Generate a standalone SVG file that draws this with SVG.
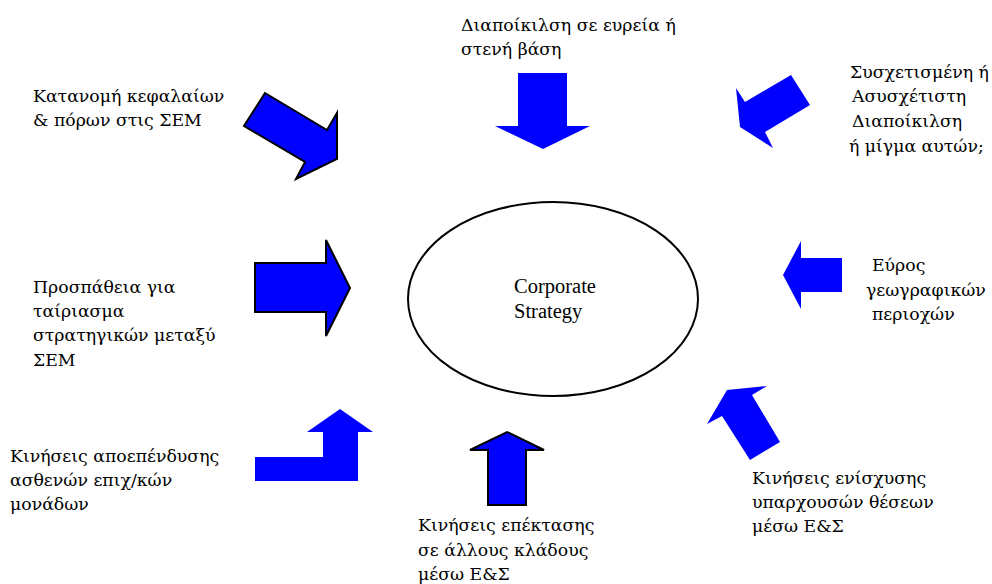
<svg xmlns="http://www.w3.org/2000/svg" width="992" height="584" viewBox="0 0 992 584">
<style>
text { font-family: "Liberation Serif", "DejaVu Serif", serif; font-size: 20.5px; fill: #000; }
.g { font-family: "DejaVu Serif", "Liberation Serif", serif; font-size: 17.3px; }
.a { fill: #0000ff; stroke: #000; stroke-width: 2; stroke-linejoin: miter; }
.b { fill: #0000ff; stroke: none; }
</style>
<rect width="992" height="584" fill="#fff"/>
<g id="center">
<ellipse cx="553" cy="299" rx="145" ry="97" fill="none" stroke="#000" stroke-width="2"/>
<text x="514" y="293">Corporate</text>
<text x="514" y="318">Strategy</text>
</g>
<g id="connectors">
<polygon class="a" points="265,93 244,126 305,162 296,179 337,159 337,113 327,130"/>
<polygon class="b" points="518,73 567,73 567,126 590,126 543,149 495,126 518,126"/>
<polygon class="b" points="791,75 810,105 765,132 773,148 740,127 736,88 745,102"/>
<polygon class="a" points="255,263 326,263 326,240 350,288 326,336 326,312 255,312"/>
<polygon class="b" points="842,258 801,258 801,241 783,275 801,309 801,292 842,292"/>
<polygon class="b" points="255,457 323,457 323,432 307,432 340,409 373,432 358,432 358,481 255,481"/>
<polygon class="a" points="488,505 526,505 526,450 544,450 507,432 470,450 488,450"/>
<polygon class="b" points="780,442 750,460 722,416 707,424 727,390 767,386 752,395"/>
</g>
<g id="n1">
<text class="g" x="33" y="102">Κατανομή κεφαλαίων</text>
<text class="g" x="33" y="126">&amp; πόρων στις ΣΕΜ</text>
</g>
<g id="n2">
<text class="g" x="461" y="31">Διαποίκιλση σε ευρεία ή</text>
<text class="g" x="461" y="55">στενή βάση</text>
</g>
<g id="n3">
<text class="g" x="850" y="78">Συσχετισμένη ή</text>
<text class="g" x="852" y="102">Ασυσχέτιστη</text>
<text class="g" x="852" y="127">Διαποίκιλση</text>
<text class="g" x="849" y="152">ή μίγμα αυτών;</text>
</g>
<g id="n4">
<text class="g" x="33" y="293">Προσπάθεια για</text>
<text class="g" x="33" y="317">ταίριασμα</text>
<text class="g" x="33" y="341">στρατηγικών μεταξύ</text>
<text class="g" x="33" y="366">ΣΕΜ</text>
</g>
<g id="n5">
<text class="g" x="872" y="271">Εύρος</text>
<text class="g" x="866" y="296">γεωγραφικών</text>
<text class="g" x="872" y="320">περιοχών</text>
</g>
<g id="n6">
<text class="g" x="10" y="462">Κινήσεις αποεπένδυσης</text>
<text class="g" x="10" y="486">ασθενών επιχ/κών</text>
<text class="g" x="10" y="510">μονάδων</text>
</g>
<g id="n7">
<text class="g" x="418" y="531">Κινήσεις επέκτασης</text>
<text class="g" x="418" y="556">σε άλλους κλάδους</text>
<text class="g" x="418" y="580">μέσω Ε&amp;Σ</text>
</g>
<g id="n8">
<text class="g" x="752" y="484">Κινήσεις ενίσχυσης</text>
<text class="g" x="752" y="508">υπαρχουσών θέσεων</text>
<text class="g" x="752" y="532">μέσω Ε&amp;Σ</text>
</g>
</svg>
